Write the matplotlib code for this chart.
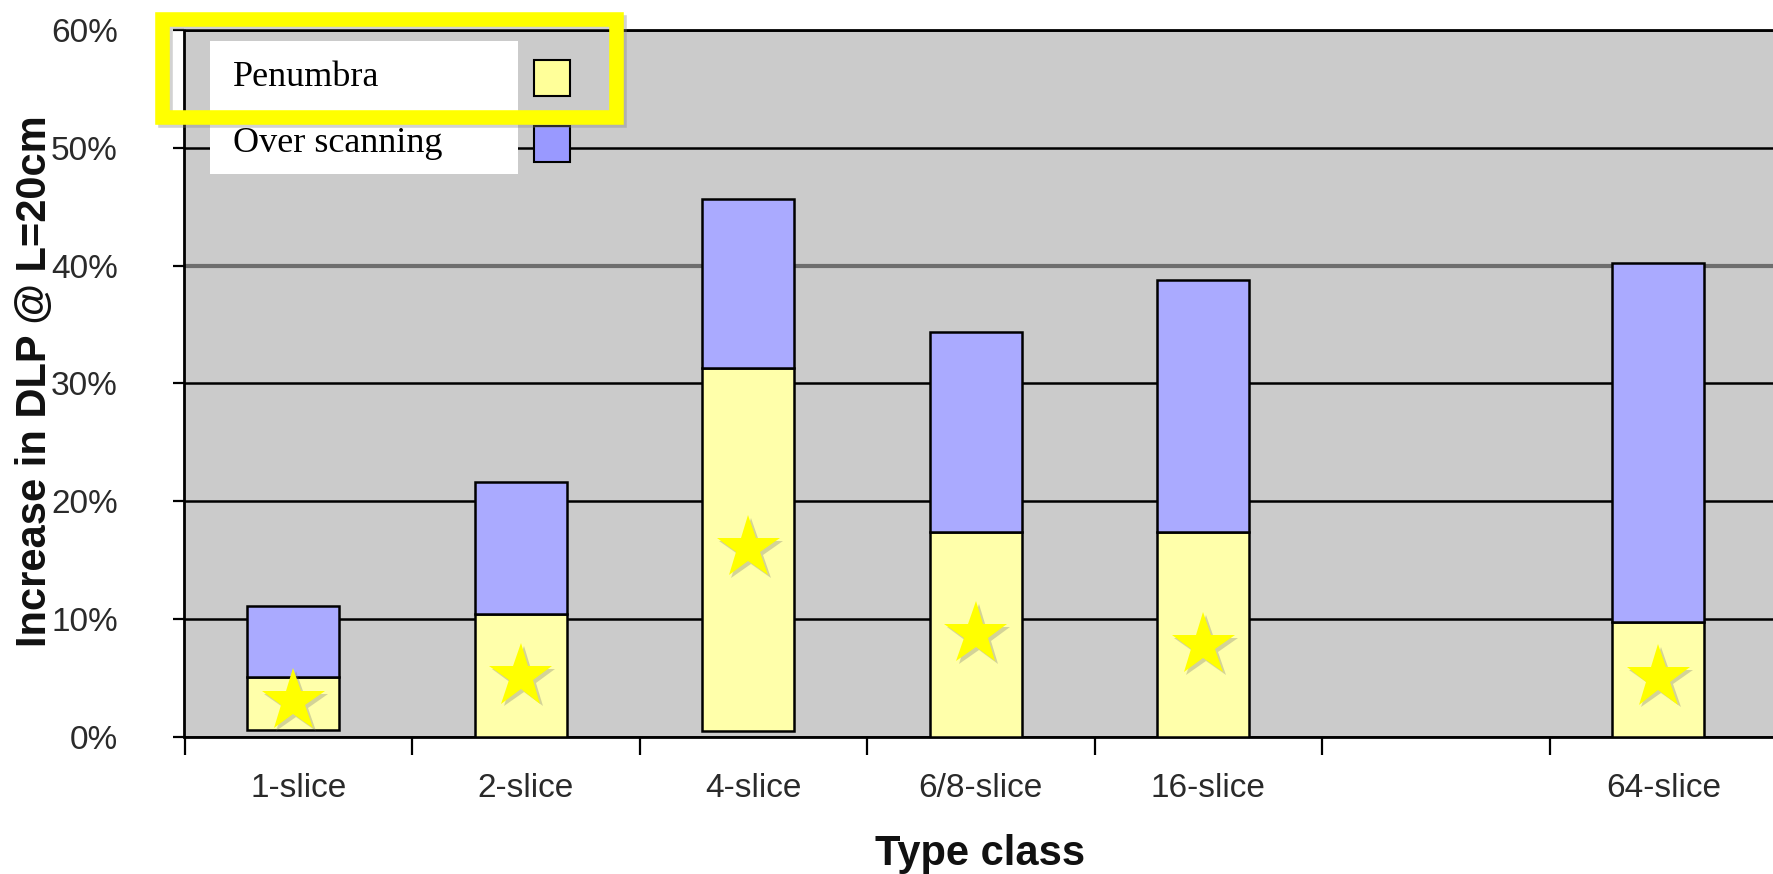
import numpy as np
import matplotlib
matplotlib.use("Agg")
import matplotlib.pyplot as plt
from matplotlib.patches import Rectangle
import matplotlib.patheffects as pe

# ---- data (percent increase in DLP at L = 20 cm) ----
categories = ["1-slice", "2-slice", "4-slice", "6/8-slice", "16-slice", "", "64-slice"]
series_names = ["Penumbra", "Over scanning"]
bar_base = [0.6, 0.0, 0.5, 0.0, 0.0, None, 0.0]
penumbra_top = [5.1, 10.4, 31.3, 17.4, 17.4, None, 9.7]
total_top = [11.05, 21.6, 45.65, 34.35, 38.8, None, 40.25]
star_values = [3.0, 5.1, 16.0, 8.7, 7.75, None, 5.0]
y_ticks = [0, 10, 20, 30, 40, 50, 60]

# ---- styling ----
W, H = 1774, 874
YELLOW = "#FFFFAA"
BLUE = "#AAAAFF"
LEG_YELLOW = "#FFFF99"
LEG_BLUE = "#9999FF"
PLOT_BG = "#CBCBCB"
SANS = ["Liberation Sans", "DejaVu Sans"]
SERIF = ["Liberation Serif", "DejaVu Serif"]


def fx(px):
    return px / W


def fy(py):
    return 1 - py / H


def arr(values):
    return np.array([np.nan if v is None else v for v in values], dtype=float)


base = arr(bar_base)
pen = arr(penumbra_top)
tot = arr(total_top)
stars = arr(star_values)
x = np.arange(len(categories))
mask = ~np.isnan(tot)

fig = plt.figure(figsize=(W / 100, H / 100), dpi=100)
ax_left, ax_top, ax_bottom = 184.5, 30.0, 736.6
ax_width = 7 * 227.5
ax = fig.add_axes([fx(ax_left), fy(ax_bottom), ax_width / W, (ax_bottom - ax_top) / H])
ax.set_facecolor(PLOT_BG)
ax.set_xlim(-0.5, len(categories) - 0.5)
ax.set_ylim(y_ticks[0], y_ticks[-1])

bar_w = 0.405
shift = -0.022
xb = x[mask] + shift
ax.bar(xb, pen[mask] - base[mask], bottom=base[mask], width=bar_w,
       color=YELLOW, edgecolor="black", linewidth=1.8, zorder=3)
ax.bar(xb, tot[mask] - pen[mask], bottom=pen[mask], width=bar_w,
       color=BLUE, edgecolor="black", linewidth=1.8, zorder=3)

# star markers with a soft drop shadow
ax.plot(xb, stars[mask], linestyle="none", marker="*", markersize=48,
        color="#FFFF00", markeredgewidth=0, zorder=5,
        path_effects=[pe.withSimplePatchShadow(offset=(2, -2),
                                               shadow_rgbFace="#707070",
                                               alpha=0.3)])

# y axis
ax.set_yticks(y_ticks)
ax.set_yticklabels([f"{v}%" for v in y_ticks], fontfamily=SANS)
ax.tick_params(axis="y", direction="out", length=8, width=1.6, color="black",
               labelsize=24, labelcolor="#2A2A2A", pad=40)
ax.yaxis.grid(True, color="black", linewidth=1.8)
ax.set_axisbelow(True)
grid_lines = ax.get_ygridlines()
grid_lines[4].set_color("#6E6E6E")
grid_lines[4].set_linewidth(3)

# x axis: labels centred on categories, ticks on the boundaries
ax.set_xticks(x)
ax.set_xticklabels(categories, fontfamily=SANS)
ax.tick_params(axis="x", which="major", length=0, labelsize=24,
               labelcolor="#2A2A2A", pad=26)
ax.set_xticks(np.arange(len(categories) + 1) - 0.5, minor=True)
ax.tick_params(axis="x", which="minor", direction="out", length=13,
               width=1.6, color="black")

for side in ["left", "bottom", "top", "right"]:
    ax.spines[side].set_color("black")
    ax.spines[side].set_linewidth(2)

fig.text(fx(35), fy(381.5), "Increase in DLP @ L=20cm", rotation=90,
         ha="center", va="center", fontsize=30, fontweight="bold",
         fontfamily=SANS, color="#111111")
fig.text(fx(980), fy(853.5), "Type class", ha="center", va="center",
         fontsize=30, fontweight="bold", fontfamily=SANS, color="#111111")

# legend block
fig.patches.append(Rectangle((fx(210), fy(174)), (518 - 210) / W, (174 - 41) / H,
                             transform=fig.transFigure, facecolor="white",
                             edgecolor="none", zorder=6))
legend_rows = [(78, LEG_YELLOW), (144, LEG_BLUE)]
for name, (cy, col) in zip(series_names, legend_rows):
    fig.text(fx(233), fy(cy), name, ha="left", va="center", fontsize=26,
             fontfamily=SERIF, color="black", zorder=7)
    sq = 36
    fig.patches.append(Rectangle((fx(534), fy(cy + sq / 2)), sq / W, sq / H,
                                 transform=fig.transFigure, facecolor=col,
                                 edgecolor="black", linewidth=1.5, zorder=7))

# highlight frame around the first legend entry
frame = Rectangle((fx(162), fy(117)), (616 - 162) / W, (117 - 19) / H,
                  transform=fig.transFigure, facecolor="none",
                  edgecolor="#FFFF00", linewidth=10.5, zorder=8,
                  path_effects=[pe.SimpleLineShadow(offset=(2, -2),
                                                    shadow_color="#808080",
                                                    alpha=0.35),
                                pe.Normal()])
fig.patches.append(frame)

fig.savefig("out.png", dpi=100, facecolor="white")
